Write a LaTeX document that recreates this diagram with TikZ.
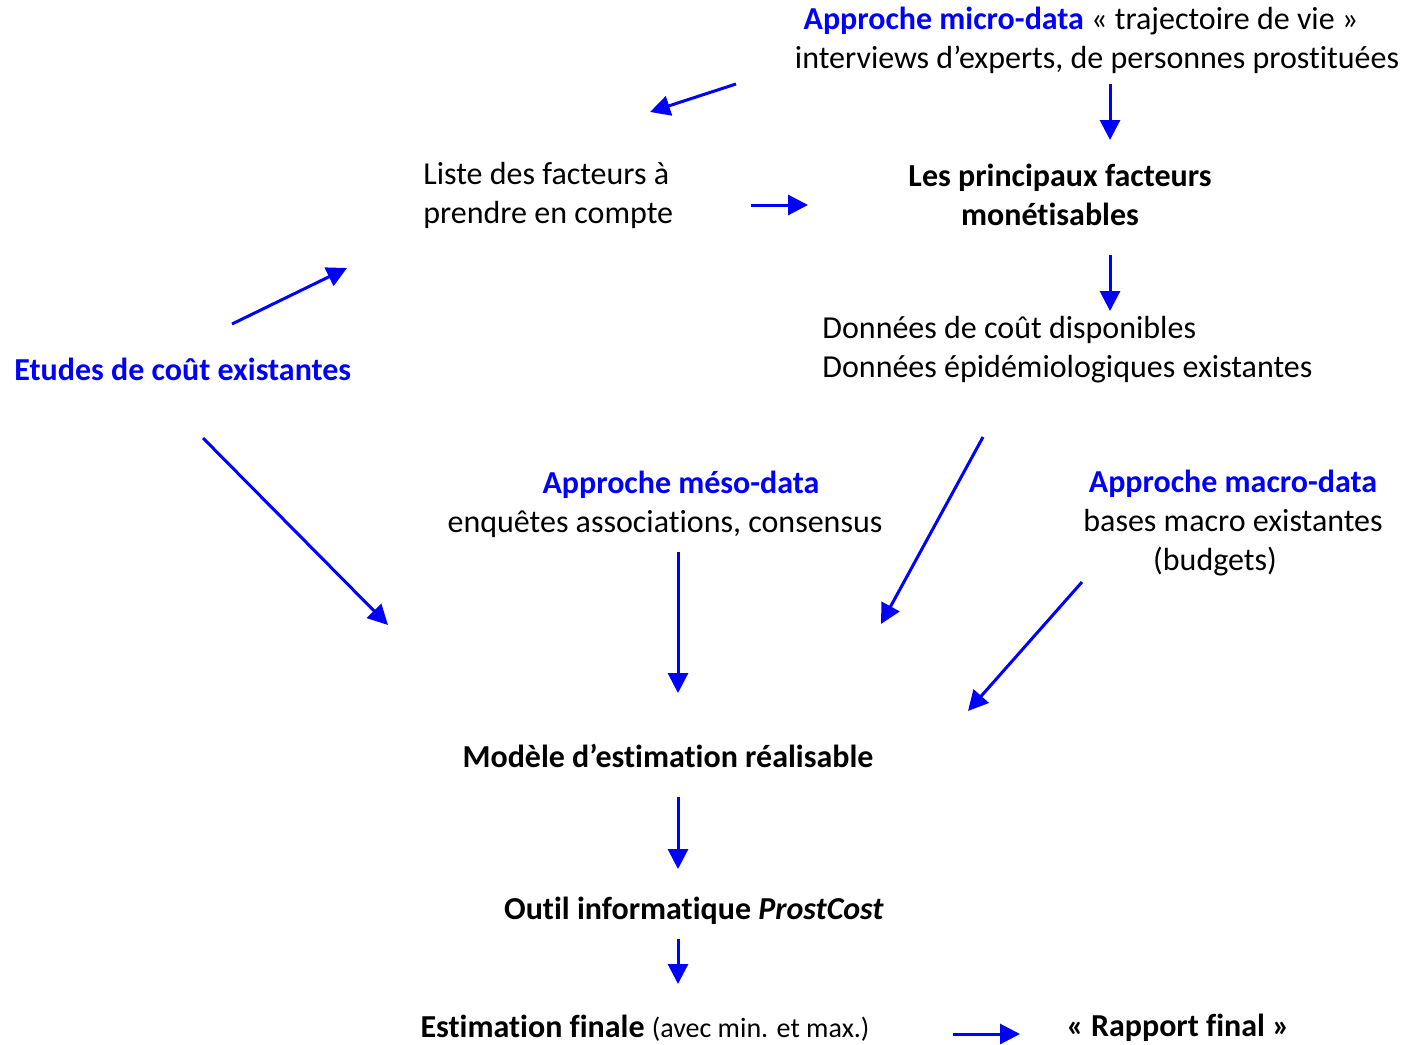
\documentclass[tikz,border=0pt]{standalone}
\usepackage{fontspec}
\setmainfont{Carlito}[Ligatures={NoCommon}]
\usetikzlibrary{arrows.meta}
\definecolor{flowblue}{RGB}{0,0,255}

\begin{document}
\begin{tikzpicture}[x=0.5pt,y=-0.5pt,
    txt/.style={inner sep=0pt,font=\fontsize{16}{19.5}\selectfont},
    key/.style={text=flowblue,font=\fontsize{16}{19.5}\selectfont\bfseries},
    flow/.style={flowblue,line width=1.5pt,-{Triangle[length=10pt,width=10pt]}}]
    	% page
    	\useasboundingbox (0,0) rectangle (1412,1044);
    	% texts
    	\node[txt,align=center] (micro) at (1097,40) {{\color{flowblue}\bfseries Approche micro-data} « trajectoire de vie »\hspace*{16pt}\\interviews d’experts, de personnes prostituées};
    	\node[txt,align=left,anchor=west] (liste) at (423,195) {Liste des facteurs à\\prendre en compte};
    	\node[txt,align=center,font=\fontsize{16}{19.5}\selectfont\bfseries] (princ) at (1055,195) {\hspace*{5pt}Les principaux facteurs\\monétisables\hspace*{5pt}};
    	\node[txt,align=left,anchor=west] (donnees) at (822,350) {Données de coût disponibles\\Données épidémiologiques existantes};
    	\node[txt,key,anchor=west] (etudes) at (14,369) {Etudes de coût existantes};
    	\node[txt,align=center] (meso) at (665,504) {\hspace*{16pt}{\color{flowblue}\bfseries Approche méso-data}\\enquêtes associations, consensus};
    	\node[txt,align=center] (macro) at (1233,523) {{\color{flowblue}\bfseries Approche macro-data}\\bases macro existantes\\(budgets)\hspace*{18pt}};
    	\node[txt,font=\fontsize{16}{19.5}\selectfont\bfseries] (modele) at (668,756) {Modèle d’estimation réalisable};
    	\node[txt,font=\fontsize{16}{19.5}\selectfont\bfseries] (outil) at (694,911) {Outil informatique \textit{ProstCost}};
    	\node[txt] (estim) at (645,1028) {\textbf{Estimation finale} {\fontsize{14}{16}\selectfont(avec min. et max.)}};
    	\node[txt,font=\fontsize{16}{19.5}\selectfont\bfseries] (rapport) at (1178,1028) {« Rapport final »};
    	% arrow ends
    	\coordinate (a1s) at (736,84);   \coordinate (a1e) at (650,112);
    	\coordinate (a2s) at (1110,84);  \coordinate (a2e) at (1110,140);
    	\coordinate (a3s) at (751,205);  \coordinate (a3e) at (808,205);
    	\coordinate (a4s) at (1110,255); \coordinate (a4e) at (1110,311);
    	\coordinate (a5s) at (232,324);  \coordinate (a5e) at (347,268);
    	\coordinate (a6s) at (203,438);  \coordinate (a6e) at (388,625);
    	\coordinate (a7s) at (983,437);  \coordinate (a7e) at (881,624);
    	\coordinate (a8s) at (678,552);  \coordinate (a8e) at (678,693);
    	\coordinate (a9s) at (1082,582); \coordinate (a9e) at (968,711);
    	\coordinate (a10s) at (678,797); \coordinate (a10e) at (678,869);
    	\coordinate (a11s) at (678,939); \coordinate (a11e) at (678,984);
    	\coordinate (a12s) at (953,1034); \coordinate (a12e) at (1020,1034);
    	% arrows
    	\foreach \i in {1,...,12}
    	    \draw[flow] (a\i s) -- (a\i e);
\end{tikzpicture}
\end{document}
